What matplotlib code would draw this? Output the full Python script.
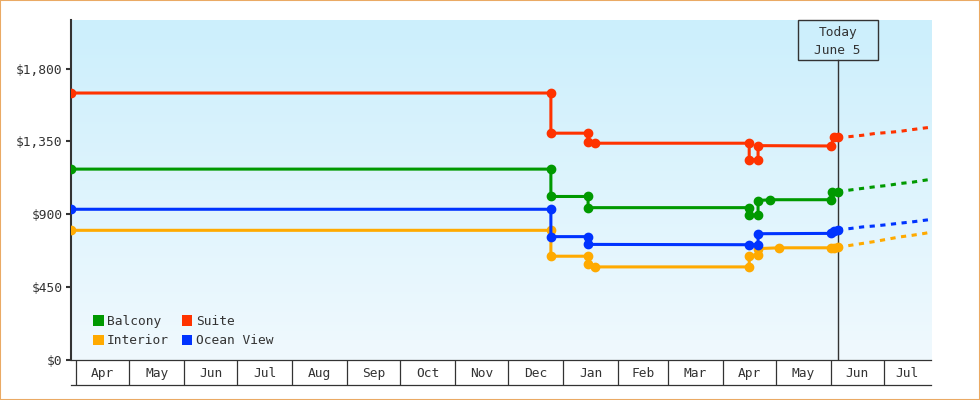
import matplotlib
matplotlib.use('Agg')
import matplotlib.pyplot as plt
import matplotlib.dates as mdates
from matplotlib.patches import Patch, Rectangle
from matplotlib.lines import Line2D
import numpy as np
import pandas as pd

plt.rcParams['font.family'] = ['DejaVu Sans Mono']
plt.rcParams['font.size'] = 9.3

# Price history (date, price) per cabin type
balcony_dates = ['2024-03-29', '2024-12-25', '2024-12-25', '2025-01-15', '2025-01-15',
                 '2025-04-16', '2025-04-16', '2025-04-21', '2025-04-21', '2025-04-28',
                 '2025-06-01', '2025-06-02', '2025-06-05']
balcony_prices = [1179, 1179, 1010, 1010, 941, 941, 894, 894, 985, 990, 990, 1036, 1040]

suite_dates = ['2024-03-29', '2024-12-25', '2024-12-25', '2025-01-15', '2025-01-15',
               '2025-01-19', '2025-04-16', '2025-04-16', '2025-04-21', '2025-04-21',
               '2025-06-01', '2025-06-03', '2025-06-05']
suite_prices = [1649, 1649, 1401, 1401, 1349, 1339, 1339, 1237, 1237, 1324, 1322, 1376, 1376]

interior_dates = ['2024-03-29', '2024-12-25', '2024-12-25', '2025-01-15', '2025-01-15',
                  '2025-01-19', '2025-04-16', '2025-04-16', '2025-04-21', '2025-04-21',
                  '2025-05-03', '2025-06-01', '2025-06-03', '2025-06-05']
interior_prices = [801, 801, 641, 641, 594, 575, 575, 645, 650, 688, 693, 693, 693, 695]

ocean_dates = ['2024-03-29', '2024-12-25', '2024-12-25', '2025-01-15', '2025-01-15',
               '2025-04-16', '2025-04-21', '2025-04-21', '2025-06-01', '2025-06-03',
               '2025-06-05']
ocean_prices = [931, 931, 762, 762, 714, 712, 712, 780, 782, 798, 805]

# Forecast
forecast_dates = ['2025-06-05', '2025-06-12', '2025-06-19', '2025-06-26', '2025-07-03',
                  '2025-07-10', '2025-07-17', '2025-07-24', '2025-07-31']
balcony_fc = [1040, 1050, 1060, 1070, 1078, 1090, 1098, 1110, 1122]
suite_fc = [1376, 1380, 1388, 1399, 1405, 1412, 1423, 1433, 1442]
interior_fc = [695, 708, 720, 732, 746, 760, 770, 782, 796]
ocean_fc = [805, 812, 822, 828, 836, 845, 853, 863, 873]

today = '2025-06-05'
y_ticks = [0, 450, 900, 1350, 1800]

series = [
    ('Balcony', balcony_dates, balcony_prices, balcony_fc, '#009900'),
    ('Suite', suite_dates, suite_prices, suite_fc, '#ff3300'),
    ('Interior', interior_dates, interior_prices, interior_fc, '#ffaa00'),
    ('Ocean View', ocean_dates, ocean_prices, ocean_fc, '#0033ff'),
]

dark = '#333333'

fig = plt.figure(figsize=(9.8, 4), dpi=100)
ax = fig.add_axes([70.5 / 980, 40 / 400, 860.2 / 980, 340 / 400])

x_left = mdates.date2num(pd.Timestamp('2024-03-28 17:00'))
x_right = mdates.date2num(pd.Timestamp('2025-07-27 12:00'))

# gradient background
grad = np.linspace(0, 1, 256).reshape(-1, 1)
top_c = np.array([204, 239, 252]) / 255
bot_c = np.array([240, 249, 254]) / 255
img = top_c * (1 - grad[..., None]) + bot_c * grad[..., None]
img = img.reshape(256, 1, 3)
ax.imshow(img, extent=[0, 1, 0, 1], transform=ax.transAxes, aspect='auto', zorder=0)

for name, d, p, fc, col in series:
    ax.plot(pd.to_datetime(d), p, '-o', color=col, lw=2.2, ms=6, zorder=3)
    ax.plot(pd.to_datetime(forecast_dates), fc, color=col, lw=2.2,
            dashes=(1.7, 1.8), zorder=3)

ax.set_xlim(x_left, x_right)
ax.set_ylim(0, 2100)

# y axis
ax.set_yticks(y_ticks)
ax.set_yticklabels(['${:,.0f}'.format(v) for v in y_ticks])
ax.tick_params(axis='y', length=3.6, width=1.5, color=dark, labelcolor=dark, pad=2)

for s in ['top', 'right']:
    ax.spines[s].set_visible(False)
ax.spines['left'].set_linewidth(1.5)
ax.spines['left'].set_color(dark)
ax.spines['bottom'].set_linewidth(0.9)
ax.spines['bottom'].set_color(dark)

# x axis month boxes
month_starts = pd.date_range('2024-04-01', '2025-07-01', freq='MS')
edges = [mdates.date2num(m) for m in month_starts]
ax.set_xticks(edges, minor=True)
bounds = edges + [x_right]
centers = [(bounds[i] + bounds[i + 1]) / 2 for i in range(len(edges))]
ax.set_xticks(centers)
ax.set_xticklabels([m.strftime('%b') for m in month_starts])
ax.tick_params(axis='x', which='major', length=0, pad=4.8, labelcolor=dark)
ax.tick_params(axis='x', which='minor', length=18, width=0.9, color=dark)
ax.add_line(Line2D([0, 1], [-25 / 340, -25 / 340], transform=ax.transAxes,
                   color=dark, lw=0.9, clip_on=False))

# today marker
t = mdates.date2num(pd.Timestamp(today))
box_h = 40 / 340
ax.axvline(t, ymin=0, ymax=1 - box_h, color=dark, lw=1, zorder=2)
box_w = 80 / (860.2 / (x_right - x_left))
ax.add_patch(Rectangle((t - box_w / 2, 1 - box_h), box_w, box_h,
                       transform=ax.get_xaxis_transform(), fill=False,
                       edgecolor=dark, lw=1, clip_on=False, zorder=4))
ax.text(t, 1 - 12.5 / 340, 'Today', transform=ax.get_xaxis_transform(),
        ha='center', va='center', color=dark)
ax.text(t, 1 - 30.5 / 340, 'June 5', transform=ax.get_xaxis_transform(),
        ha='center', va='center', color=dark)

# legend
handles = [Patch(facecolor=c, edgecolor='none') for _, _, _, _, c in series]
labels = [n for n, _, _, _, _ in series]
order = [0, 2, 1, 3]
ax.legend([handles[i] for i in order], [labels[i] for i in order], ncol=2,
          loc='lower left', bbox_to_anchor=(0.026, 0.037), frameon=False,
          handlelength=0.83, handleheight=0.87, handletextpad=0.25,
          columnspacing=1.0, labelspacing=0.5, borderpad=0, borderaxespad=0,
          labelcolor=dark)

# outer border
fig.add_artist(Rectangle((0, 0), 1, 1, transform=fig.transFigure, fill=False,
                         edgecolor='#eaaa64', lw=1.5))

plt.savefig('out.png', dpi=100)
